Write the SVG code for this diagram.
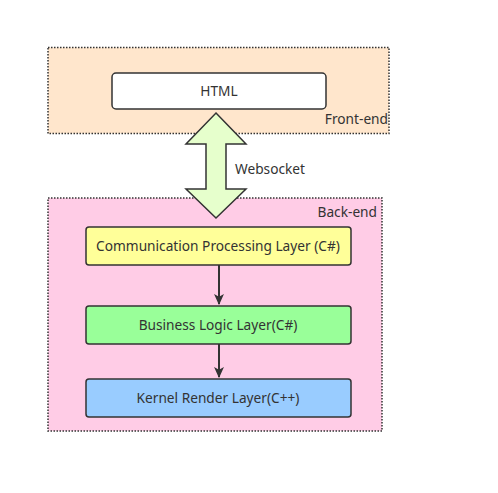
<svg xmlns="http://www.w3.org/2000/svg" width="498" height="493" viewBox="0 0 498 493">
<defs>
<style>
.grp{stroke:#333;stroke-width:1.5;stroke-dasharray:1.5 1.5}
.node{stroke:#333;stroke-width:1.5}
text{font-family:"Noto Sans","Open Sans",sans-serif;font-size:13.7px;fill:#333}
.c{text-anchor:middle}
.r{text-anchor:end}
</style>
<marker id="ah" viewBox="0 0 10 10" refX="9" refY="5" markerWidth="5.5" markerHeight="5.5" orient="auto" markerUnits="strokeWidth">
<path d="M0,0.5 L10,5 L0,9.5 L2.5,5 Z" fill="#333"/>
</marker>
</defs>
<rect width="498" height="493" fill="#fff"/>
<g id="frontend">
<rect class="grp" x="48" y="47.5" width="341" height="86" fill="#FFE6CC"/>
<text class="r" x="388" y="124">Front-end</text>
</g>
<g id="backend">
<rect class="grp" x="48" y="198" width="334" height="233" fill="#FFCCE6"/>
<text class="r" x="377" y="217">Back-end</text>
</g>
<g id="html">
<rect class="node" x="112" y="73" width="214" height="36" rx="4" fill="#fff"/>
<text class="c" x="219" y="96">HTML</text>
</g>
<g id="websocket">
<path class="node" d="M216,113 L246,144 L226,144 L226,189 L246,189 L216,218 L186,189 L206,189 L206,144 L186,144 Z" fill="#E6FFCC" stroke-linejoin="miter"/>
<text x="235" y="174">Websocket</text>
</g>
<g id="comm">
<rect class="node" x="86" y="227" width="265" height="38" rx="3" fill="#FFFF99"/>
<text class="c" x="218" y="250.5">Communication Processing Layer (C#)</text>
</g>
<g id="business">
<rect class="node" x="86" y="306" width="265" height="38" rx="3" fill="#99FF99"/>
<text class="c" x="218" y="329.5">Business Logic Layer(C#)</text>
</g>
<g id="kernel">
<rect class="node" x="86" y="379" width="265" height="38" rx="3" fill="#99CCFF"/>
<text class="c" x="218" y="402.5">Kernel Render Layer(C++)</text>
</g>
<g id="connectors" stroke="#333" stroke-width="2" fill="none">
<path d="M219,265 L219,304" marker-end="url(#ah)"/>
<path d="M219,344 L219,377" marker-end="url(#ah)"/>
</g>
</svg>
